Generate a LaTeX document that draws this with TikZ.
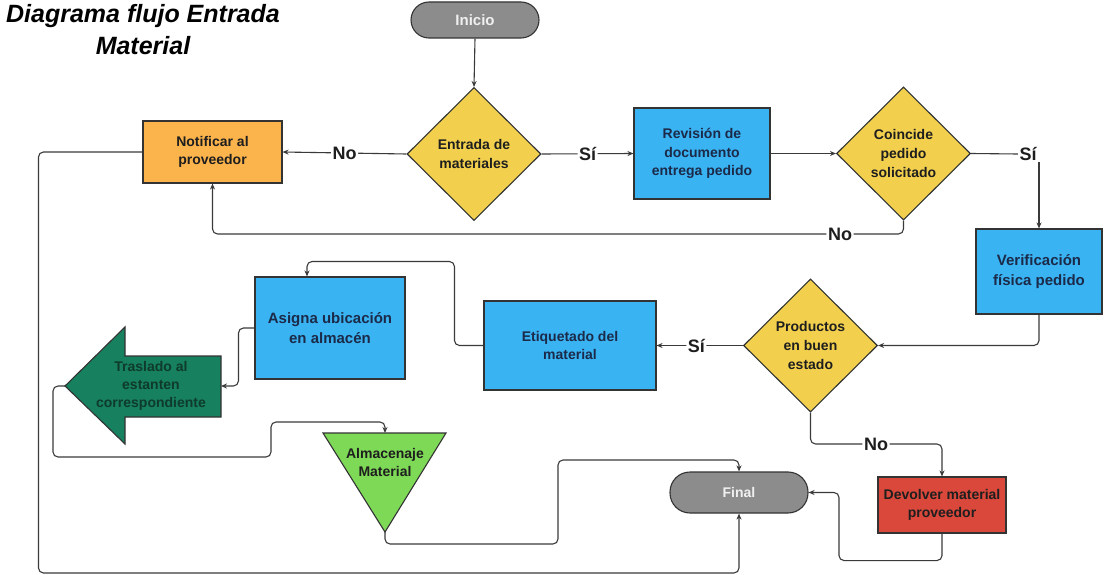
\documentclass[tikz,border=0pt]{standalone}
\usepackage{fontspec}
\setmainfont{Liberation Sans}
\usetikzlibrary{shapes.geometric,arrows.meta,calc}

\definecolor{bordc}{HTML}{333333}
\definecolor{linec}{HTML}{3A3A3A}
\definecolor{pillc}{HTML}{8C8C8C}
\definecolor{decc}{HTML}{F2D04E}
\definecolor{orangec}{HTML}{FBB34C}
\definecolor{bluec}{HTML}{3AB3F3}
\definecolor{redc}{HTML}{D9483B}
\definecolor{dgreenc}{HTML}{17805E}
\definecolor{lgreenc}{HTML}{7ED957}
\definecolor{navyc}{HTML}{1B2A48}
\definecolor{inkc}{HTML}{1E1E1E}
\definecolor{dkgreentext}{HTML}{0E3B2B}

\tikzset{
  shapetext/.style={font=\bfseries\fontsize{14}{18.5}\selectfont, align=center},
  boxnode/.style={shapetext, rectangle, draw=bordc, line width=1.1pt, inner sep=0pt, text=navyc},
  pill/.style={boxnode, fill=pillc, text=white!94!black, rounded corners=#1},
  decision/.style={shapetext, diamond, draw=bordc, fill=decc, line width=1.1pt,
    inner sep=0pt, text=inkc, minimum width=134pt, minimum height=133pt,
    font=\bfseries\fontsize{14}{19}\selectfont},
  processbox/.style={boxnode, fill=bluec},
  conn/.style={draw=linec, line width=1.1pt, rounded corners=5pt},
  arrowconn/.style={conn, -{Stealth[length=6pt,width=5pt]}},
  lbl/.style={fill=white, inner sep=1.5pt, text=inkc,
    font=\bfseries\fontsize{18}{18}\selectfont},
  shapefill/.style={draw=bordc, line width=1.1pt},
}

\begin{document}
\begin{tikzpicture}[x=1pt,y=-1pt]
\useasboundingbox (0,0) rectangle (1104,575);

% title
\node[font=\bfseries\itshape\fontsize{25}{32}\selectfont, align=center, text=black]
  (title) at (143,30) {Diagrama flujo Entrada\\Material};

% start / end terminals
\node[pill=18pt, minimum width=128pt, minimum height=36pt,
      font=\bfseries\fontsize{15}{18}\selectfont] (inicio) at (475,20) {Inicio};
\node[pill=20pt, minimum width=138pt, minimum height=41pt] (final) at (739,492.5) {Final};

% decisions
\node[decision] (entrada) at (474,154) {Entrada de\\materiales};
\node[decision] (coincide) at (903.5,153.5) {Coincide\\pedido\\solicitado};
\node[decision] (productos) at (810.5,345.5) {Productos\\en buen\\estado};

% process boxes
\node[boxnode, fill=orangec, text=inkc, minimum width=139pt, minimum height=62pt]
  (notif) at (212.5,152) {Notificar al\\proveedor};
\node[processbox, minimum width=136pt, minimum height=91pt]
  (revision) at (702,153.5) {Revisión de\\documento\\entrega pedido};
\node[processbox, minimum width=126pt, minimum height=85pt,
      font=\bfseries\fontsize{15}{19.5}\selectfont]
  (verif) at (1039,271.5) {Verificación\\física pedido};
\node[processbox, minimum width=172pt, minimum height=89pt]
  (etiq) at (570,345.5) {Etiquetado del\\material};
\node[processbox, minimum width=150pt, minimum height=102pt,
      font=\bfseries\fontsize{15}{20}\selectfont]
  (asigna) at (330,328) {Asigna ubicación\\en almacén};
\node[boxnode, fill=redc, text=inkc, minimum width=128pt, minimum height=56pt]
  (devolver) at (942,505) {Devolver material\\proveedor};

% left-pointing block arrow
\coordinate (trtip) at (65,386);
\coordinate (trright) at (221,386);
\fill[dgreenc, shapefill] (trtip) -- (125,327) -- (125,356) -- (221,356)
  -- (221,417) -- (125,417) -- (125,444) -- cycle;
\node[shapetext, text=dkgreentext, font=\bfseries\fontsize{14}{18}\selectfont]
  (traslado) at (151,386) {Traslado al\\estanten\\correspondiente};

% storage triangle
\coordinate (almtop) at (385,433);
\coordinate (almtip) at (385,532);
\fill[lgreenc, shapefill] (323,433) -- (446,433) -- (almtip) -- cycle;
\node[shapetext, text=inkc, font=\bfseries\fontsize{14}{18}\selectfont]
  (almacen) at (385,462) {Almacenaje\\Material};

% connectors
\draw[arrowconn] (inicio.south) -- (entrada.north);
\draw[arrowconn] (entrada.west) -- node[lbl] {No} (notif.east);
\draw[arrowconn] (entrada.east) -- node[lbl] {Sí} (revision.west);
\draw[arrowconn] (revision.east) -- (coincide.west);

\node[lbl] (si2) at (1028,154) {Sí};
\draw[conn] (coincide.east) -- (si2.west);
\draw[arrowconn] (si2.south -| verif.north) -- (verif.north);

\node[lbl] (no2) at (840,234) {No};
\draw[conn] (coincide.south) |- (no2.east);
\draw[arrowconn] (no2.west) -| (notif.south);

\draw[arrowconn] (verif.south) |- (productos.east);
\draw[arrowconn] (productos.west) -- node[lbl, pos=0.54] {Sí} (etiq.east);

\node[lbl] (no3) at (876,444) {No};
\draw[conn] (productos.south) |- (no3.west);
\draw[arrowconn] (no3.east) -| (devolver.north);

\draw[arrowconn] (etiq.west) -- ++(-29,0) -- ++(0,-84) -| ([xshift=-23pt]asigna.north);
\draw[arrowconn] (asigna.west) -- ++(-16,0) |- (trright);
\draw[arrowconn] (trtip) -- ++(-12,0) -- ++(0,71) -- ++(218,0) -- ++(0,-35) -| (almtop);
\draw[arrowconn] (almtip) -- ++(0,12) -- ++(173,0) -- ++(0,-84) -| (final.north);
\draw[arrowconn] (devolver.south) -- ++(0,27) -- ++(-103,0) |- (final.east);
\draw[arrowconn] (notif.west) -- ++(-104,0) -- ++(0,421) -| (final.south);

\end{tikzpicture}
\end{document}
